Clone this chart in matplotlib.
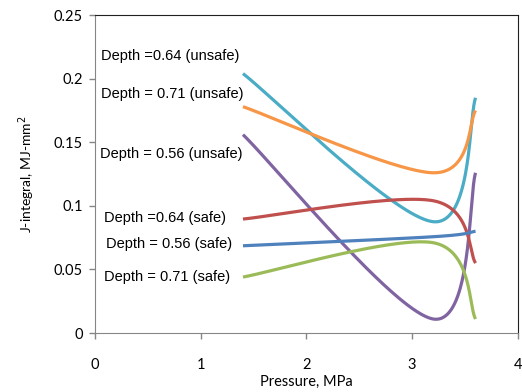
import numpy as np
import matplotlib
matplotlib.use("Agg")
import matplotlib.pyplot as plt

plt.rcParams['font.family'] = ['Lato', 'DejaVu Sans']

# pressure points (MPa) shared by all series
pressure = [1.4, 3.2, 3.6]

# J-integral values, MJ-mm^2
j_064_unsafe = [0.204, 0.0875, 0.185]
j_071_unsafe = [0.178, 0.126, 0.175]
j_056_unsafe = [0.156, 0.011, 0.126]
j_064_safe = [0.0896, 0.104, 0.055]
j_056_safe = [0.0686, 0.0757, 0.080]
j_071_safe = [0.044, 0.071, 0.011]

labels = ["Depth =0.64 (unsafe)", "Depth = 0.71 (unsafe)", "Depth = 0.56 (unsafe)",
          "Depth =0.64 (safe)", "Depth = 0.56 (safe)", "Depth = 0.71 (safe)"]
colors = ["#4BACC6", "#F79646", "#8064A2", "#C0504D", "#4F81BD", "#9BBB59"]
series = [j_064_unsafe, j_071_unsafe, j_056_unsafe, j_064_safe, j_056_safe, j_071_safe]
# label anchor (x in data, y in data)
label_pos = [(0.055, 0.2178), (0.055, 0.188), (0.05, 0.1407), (0.085, 0.0904), (0.1, 0.070), (0.085, 0.0443)]


def smooth(xs, ys, n=80):
    # catmull-rom style bezier through the points, like a spreadsheet "smoothed line"
    p = np.column_stack([xs, ys]).astype(float)
    p = np.vstack([p[0], p, p[-1]])
    out = []
    t = np.linspace(0, 1, n)[:, None]
    for i in range(1, len(p) - 2):
        a, b = p[i], p[i + 1]
        c1 = a + (p[i + 1] - p[i - 1]) / 6.0
        c2 = b - (p[i + 2] - p[i]) / 6.0
        seg = (1 - t) ** 3 * a + 3 * (1 - t) ** 2 * t * c1 + 3 * (1 - t) * t ** 2 * c2 + t ** 3 * b
        out.append(seg)
    out = np.vstack(out)
    return out[:, 0], out[:, 1]


fig = plt.figure(figsize=(5.22, 3.92), dpi=100)
ax = fig.add_axes([0.182, 0.1505, 0.810, 0.811])

for ys, c in zip(series, colors):
    sx, sy = smooth(pressure, ys)
    ax.plot(sx, sy, color=c, lw=2.3, solid_capstyle='butt')

for (lx, ly), txt in zip(label_pos, labels):
    ax.text(lx, ly, txt, fontsize=10.5, va='center', ha='left', color='black',
            family=['Liberation Sans', 'DejaVu Sans'])

ax.set_xlim(0, 4)
ax.set_ylim(0, 0.25)
ax.set_xticks([0, 1, 2, 3, 4])
ax.set_yticks([0, 0.05, 0.1, 0.15, 0.2, 0.25])
ax.set_xticklabels(["0", "1", "2", "3", "4"])
ax.set_yticklabels(["0", "0.05", "0.1", "0.15", "0.2", "0.25"])
ax.tick_params(axis='both', direction='out', length=4, width=1, color='#868686',
               labelsize=10.5, pad=5)
ax.tick_params(axis='x', pad=14)
for s in ['left', 'bottom']:
    ax.spines[s].set_color('#868686')
for s in ['top', 'right']:
    ax.spines[s].set_color('#202020')
ax.set_xlabel("Pressure, MPa", fontsize=10.5, labelpad=2)
ax.set_ylabel("J-integral, MJ-mm$^2$", fontsize=10, labelpad=12)

fig.savefig("out.png", dpi=100)
